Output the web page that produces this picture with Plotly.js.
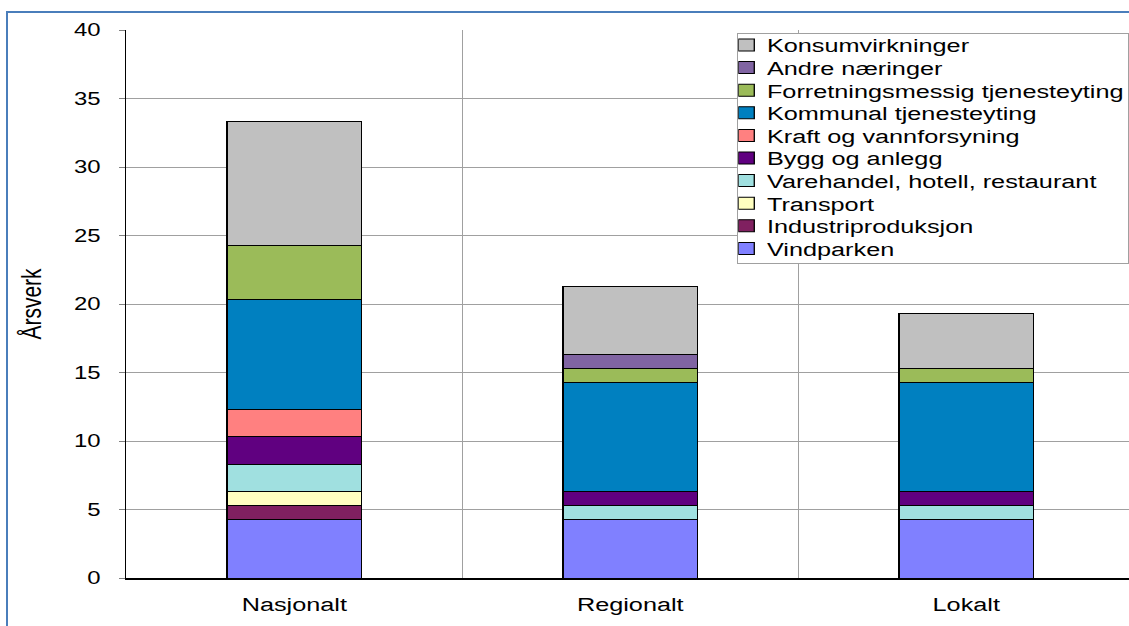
<!DOCTYPE html>
<html>
<head>
<meta charset="utf-8">
<script src="https://cdn.plot.ly/plotly-3.0.1.min.js"></script>
<style>
html,body{margin:0;padding:0;background:#fff;overflow:hidden;}
#frame{position:absolute;left:6px;top:11px;width:1200px;height:700px;border:2px solid #4a7ebb;box-sizing:border-box;}
#wrap{position:absolute;left:0;top:0;width:849px;height:626px;transform:scaleX(1.33);transform-origin:0 0;}
#chart{width:849px;height:626px;}
</style>
</head>
<body>
<div id="frame"></div>
<div id="wrap"><div id="chart"></div></div>
<script>
const categories = ["Nasjonalt", "Regionalt", "Lokalt"];
const seriesNames = ["Vindparken", "Industriproduksjon", "Transport", "Varehandel, hotell, restaurant", "Bygg og anlegg", "Kraft og vannforsyning", "Kommunal tjenesteyting", "Forretningsmessig tjenesteyting", "Andre næringer", "Konsumvirkninger"];
const vindparken = [4.3, 4.3, 4.3];
const industriproduksjon = [1.0, 0, 0];
const transport = [1.0, 0, 0];
const varehandel = [2.0, 1.0, 1.0];
const byggOgAnlegg = [2.0, 1.0, 1.0];
const kraftOgVann = [2.0, 0, 0];
const kommunal = [8.0, 8.0, 8.0];
const forretningsmessig = [4.0, 1.0, 1.0];
const andreNaeringer = [0, 1.0, 0];
const konsum = [9.0, 5.0, 4.0];
const seriesValues = [vindparken, industriproduksjon, transport, varehandel, byggOgAnlegg, kraftOgVann, kommunal, forretningsmessig, andreNaeringer, konsum];
const colors = ["#8080FF", "#802060", "#FFFFC0", "#A0E0E0", "#600080", "#FF8080", "#0080C0", "#9BBB59", "#8064A2", "#C0C0C0"];

const traces = seriesNames.map((name, i) => ({
  type: "bar",
  name: name,
  x: categories,
  y: seriesValues[i].map(v => v === 0 ? null : v),
  marker: {color: colors[i], line: {color: "#000", width: 1}},
  hoverinfo: "name+y"
}));

const layout = {
  width: 849, height: 626,
  margin: {l: 95, r: 0, t: 30, b: 48},
  barmode: "stack",
  bargap: 0.6,
  paper_bgcolor: "rgba(0,0,0,0)",
  plot_bgcolor: "#fff",
  font: {family: "Liberation Sans, Arial, sans-serif", size: 18, color: "#000"},
  showlegend: true,
  legend: {
    traceorder: "reversed",
    x: 0.3, y: 1, xanchor: "left", yanchor: "top",
    bgcolor: "#fff", bordercolor: "#a0a0a0", borderwidth: 1,
    font: {size: 19, color: "#000"},
    itemwidth: 30, tracegroupgap: 0
  },
  xaxis: {
    type: "category",
    range: [-0.5, 2.485],
    tickson: "boundaries",
    showgrid: true, gridcolor: "#a0a0a0", gridwidth: 1,
    ticks: "", showline: true, linecolor: "#000", linewidth: 2,
    tickfont: {size: 19}, zeroline: false,
    ticklabelstandoff: 8
  },
  yaxis: {
    range: [0, 40], dtick: 5,
    showgrid: true, gridcolor: "#a0a0a0", gridwidth: 1,
    ticks: "outside", ticklen: 4.5, tickcolor: "#808080",
    showline: true, linecolor: "#000", linewidth: 1.2,
    tickfont: {size: 18}, zeroline: false,
    ticklabelstandoff: 10,
    title: {text: "Årsverk", font: {size: 21}, standoff: 18}
  }
};

Plotly.newPlot("chart", traces, layout, {displayModeBar: false, staticPlot: true}).then(() => {
  try {
    const leg = document.querySelector("#chart .legend");
    if (!leg) return;
    const step = 22.6, first = 12, boxW = 294, boxH = 230;
    const boxLeft = 737 / 1.33, boxTop = 33;
    leg.setAttribute("transform", "translate(" + boxLeft + "," + boxTop + ")");
    const items = Array.from(leg.querySelectorAll("g.traces"));
    const getY = g => {
      const m = /translate\(\s*([-\d.]+)[ ,]+([-\d.]+)/.exec(g.getAttribute("transform") || "");
      return m ? parseFloat(m[2]) : 0;
    };
    items.sort((a, b) => getY(a) - getY(b));
    items.forEach((g, i) => {
      g.setAttribute("transform", "translate(0," + (first + i * step) + ")");
      const pts = g.querySelector("g.legendpoints");
      if (pts) pts.setAttribute("transform", "translate(-13,0)");
      const t = g.querySelector("text.legendtext");
      if (t) t.setAttribute("x", "22.5");
      const r = g.querySelector("rect.legendtoggle");
      if (r) { r.setAttribute("height", step); r.setAttribute("y", -step / 2); }
    });
    leg.querySelectorAll("rect.bg").forEach(bg => {
      bg.setAttribute("width", boxW);
      bg.setAttribute("height", boxH);
    });
    leg.querySelectorAll("clipPath rect").forEach(r => {
      r.setAttribute("width", boxW);
      r.setAttribute("height", boxH);
    });
  } catch (e) { console.log(e); }
});
</script>
</body>
</html>
